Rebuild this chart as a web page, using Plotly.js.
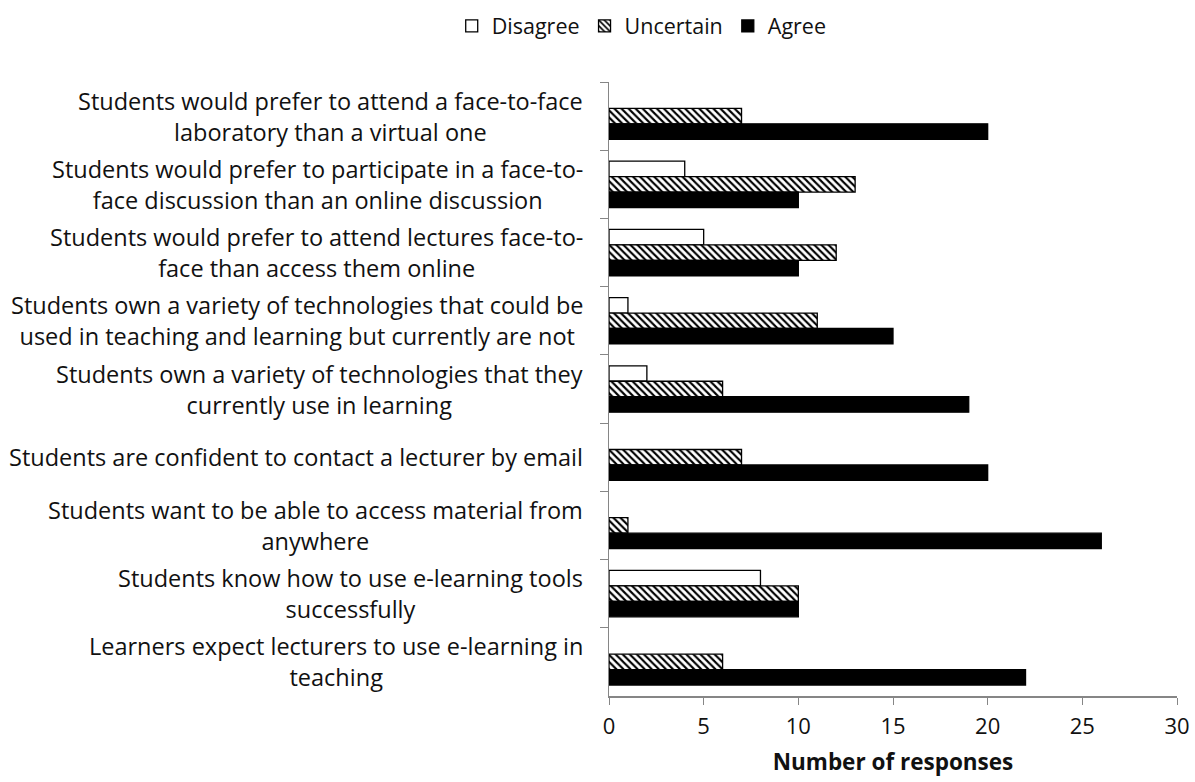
<!DOCTYPE html>
<html>
<head>
<meta charset="utf-8">
<script src="https://cdn.plot.ly/plotly-3.0.1.min.js"></script>
<style>html,body{margin:0;padding:0;background:#fff;}#chart{width:1195px;height:782px;}</style>
</head>
<body>
<div id="chart"></div>
<script>
const categories = [
  "Students would prefer to attend a face-to-face<br>laboratory than a virtual one",
  "Students would prefer to participate in a face-to-<br>face discussion than an online discussion",
  "Students would prefer to attend lectures face-to-<br>face than access them online",
  "Students own a variety of technologies that could be<br>used in teaching and learning but currently are not",
  "Students own a variety of technologies that they<br>currently use in learning",
  "Students are confident to contact a lecturer by email",
  "Students want to be able to access material from<br>anywhere",
  "Students know how to use e-learning tools<br>successfully",
  "Learners expect lecturers to use e-learning in<br>teaching"
];
const disagree  = [0, 4, 5, 1, 2, 0, 0, 8, 0];
const uncertain = [7, 13, 12, 11, 6, 7, 1, 10, 6];
const agree     = [20, 10, 10, 15, 19, 20, 26, 10, 22];
const xTicks = [0, 5, 10, 15, 20, 25, 30];

const FONT = "Open Sans, Lato, sans-serif";
const TXT = '#111111';
const hideZero = arr => arr.map(v => v === 0 ? null : v);
const traces = [
  {type:'bar', orientation:'h', name:'Disagree', y:categories, x:hideZero(disagree),
   marker:{color:'#ffffff', line:{color:'#000000', width:1.3}}},
  {type:'bar', orientation:'h', name:'Uncertain', y:categories, x:hideZero(uncertain),
   marker:{color:'#ffffff', line:{color:'#000000', width:1.3},
     pattern:{shape:'\\', fgcolor:'#000000', bgcolor:'#ffffff', size:5, solidity:0.42}}},
  {type:'bar', orientation:'h', name:'Agree', y:categories, x:hideZero(agree),
   marker:{color:'#000000', line:{color:'#000000', width:1.3}}}
];
const annotations = categories.map(c => ({
  x:0, xref:'paper', xanchor:'right', xshift:-24,
  y:c, yref:'y', yanchor:'middle',
  text:c, align:'center', showarrow:false,
  font:{family:FONT, size:23.5, color:TXT}
}));
const layout = {
  width:1195, height:782,
  margin:{l:609, r:18, t:82, b:86},
  paper_bgcolor:'#ffffff', plot_bgcolor:'#ffffff',
  barmode:'group', bargap:0.32, bargroupgap:0,
  font:{family:FONT, size:22, color:TXT},
  showlegend:true,
  legend:{orientation:'h', x:0.537, xref:'container', xanchor:'center', y:0.993, yref:'container', yanchor:'top',
    font:{family:FONT, size:21.5, color:TXT}, itemwidth:30, tracegroupgap:0},
  annotations:annotations,
  xaxis:{range:[0,30], tickvals:xTicks, ticktext:xTicks.map(String), showgrid:false, zeroline:false,
    showline:true, linecolor:'#868686', linewidth:1.5, ticks:'outside', ticklen:7, tickcolor:'#868686',
    tickfont:{family:FONT, size:22, color:TXT}, ticklabelstandoff:3,
    title:{text:'<b>Number of responses</b>', font:{family:FONT, size:22.5, color:TXT}, standoff:15}},
  yaxis:{type:'category', autorange:'reversed', showgrid:false, showline:true, linecolor:'#868686', linewidth:1.5,
    ticks:'outside', ticklen:8, tickcolor:'#868686', tickson:'boundaries', showticklabels:false}
};
Plotly.newPlot('chart', traces, layout, {displayModeBar:false, staticPlot:true});
</script>
</body>
</html>
